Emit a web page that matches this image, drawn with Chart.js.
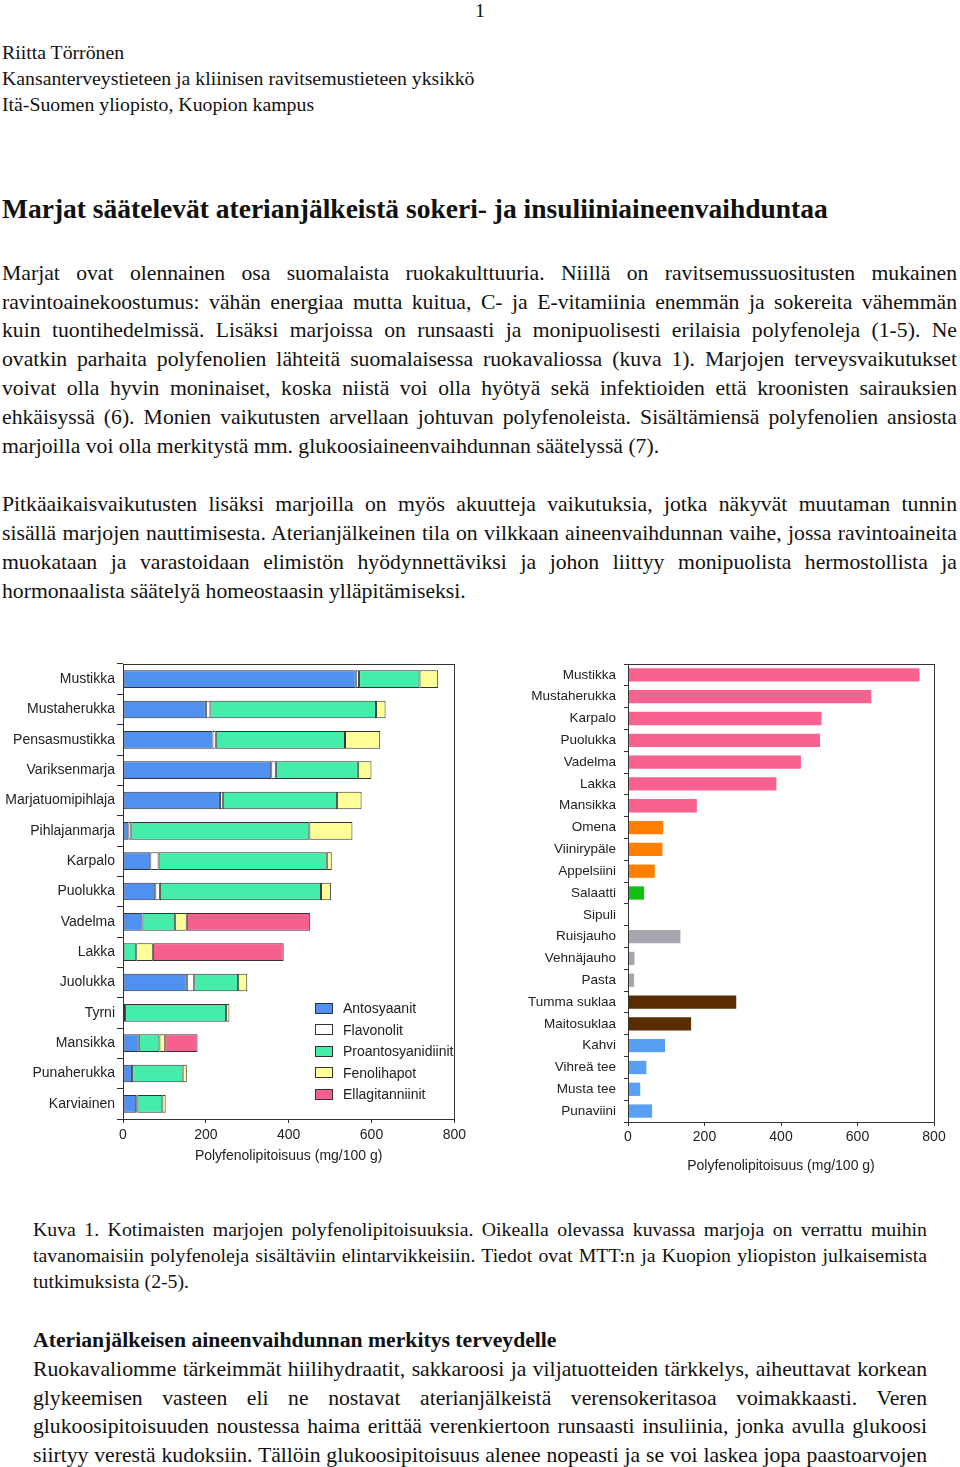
<!DOCTYPE html>
<html>
<head>
<meta charset="utf-8">
<script src="https://cdn.jsdelivr.net/npm/chart.js@4.4.0/dist/chart.umd.min.js"></script>
<style>
  body { margin: 0; background: #fff; width: 960px; height: 1467px; position: relative; overflow: hidden;
         font-family: "Liberation Serif", "Times New Roman", serif; color: #111; }
  .ln { position: absolute; left: 2px; width: 955px; font-size: 21.7px; line-height: 28px; height: 28px;
        text-align: justify; text-align-last: justify; }
  .hd { position: absolute; left: 2px; font-size: 19.8px; line-height: 26px; white-space: nowrap; }
  .cap { position: absolute; left: 33px; width: 894px; font-size: 19.8px; line-height: 26px; height: 26px;
         text-align: justify; text-align-last: justify; }
  .p3 { left: 33px; width: 894px; }
  .ln.last, .cap.last { text-align-last: left; }
  canvas { position: absolute; }
  #legend { position: absolute; left: 315px; top: 998px; font-family: "Liberation Sans", Arial, sans-serif;
            font-size: 14px; color: #222; }
  #legend div { height: 21.5px; line-height: 21.5px; white-space: nowrap; }
  #legend span.box { display: inline-block; width: 16px; height: 9px; border: 1px solid #333;
                     vertical-align: middle; margin-right: 10px; margin-top: -2px; }
</style>
</head>
<body>

<div class="hd" style="left:475px;top:-3px;">1</div>
<div class="hd" style="top:39px;">Riitta Törrönen</div>
<div class="hd" style="top:65px;">Kansanterveystieteen ja kliinisen ravitsemustieteen yksikkö</div>
<div class="hd" style="top:91px;">Itä-Suomen yliopisto, Kuopion kampus</div>

<div class="hd" style="top:193px;font-size:27.5px;line-height:32px;font-weight:bold;">Marjat säätelevät aterianjälkeistä sokeri- ja insuliiniaineenvaihduntaa</div>

<div class="ln" style="top:259px;">Marjat ovat olennainen osa suomalaista ruokakulttuuria. Niillä on ravitsemussuositusten mukainen</div>
<div class="ln" style="top:288px;">ravintoainekoostumus: vähän energiaa mutta kuitua, C- ja E-vitamiinia enemmän ja sokereita vähemmän</div>
<div class="ln" style="top:316px;">kuin tuontihedelmissä. Lisäksi marjoissa on runsaasti ja monipuolisesti erilaisia polyfenoleja (1-5). Ne</div>
<div class="ln" style="top:345px;">ovatkin parhaita polyfenolien lähteitä suomalaisessa ruokavaliossa (kuva 1). Marjojen terveysvaikutukset</div>
<div class="ln" style="top:374px;">voivat olla hyvin moninaiset, koska niistä voi olla hyötyä sekä infektioiden että kroonisten sairauksien</div>
<div class="ln" style="top:403px;">ehkäisyssä (6). Monien vaikutusten arvellaan johtuvan polyfenoleista. Sisältämiensä polyfenolien ansiosta</div>
<div class="ln last" style="top:432px;">marjoilla voi olla merkitystä mm. glukoosiaineenvaihdunnan säätelyssä (7).</div>

<div class="ln" style="top:490px;">Pitkäaikaisvaikutusten lisäksi marjoilla on myös akuutteja vaikutuksia, jotka näkyvät muutaman tunnin</div>
<div class="ln" style="top:519px;">sisällä marjojen nauttimisesta. Aterianjälkeinen tila on vilkkaan aineenvaihdunnan vaihe, jossa ravintoaineita</div>
<div class="ln" style="top:548px;">muokataan ja varastoidaan elimistön hyödynnettäviksi ja johon liittyy monipuolista hermostollista ja</div>
<div class="ln last" style="top:577px;">hormonaalista säätelyä homeostaasin ylläpitämiseksi.</div>

<canvas id="left" width="470" height="560" style="left:0;top:640px;width:470px;height:560px;"></canvas>
<canvas id="right" width="460" height="560" style="left:500px;top:640px;width:460px;height:560px;"></canvas>
<div id="legend"></div>

<div class="cap" style="top:1216px;">Kuva 1. Kotimaisten marjojen polyfenolipitoisuuksia. Oikealla olevassa kuvassa marjoja on verrattu muihin</div>
<div class="cap" style="top:1242px;">tavanomaisiin polyfenoleja sisältäviin elintarvikkeisiin. Tiedot ovat MTT:n ja Kuopion yliopiston julkaisemista</div>
<div class="cap last" style="top:1268px;">tutkimuksista (2-5).</div>

<div class="hd" style="left:33px;top:1326px;font-size:21.7px;line-height:28px;font-weight:bold;">Aterianjälkeisen aineenvaihdunnan merkitys terveydelle</div>
<div class="ln p3" style="top:1355px;">Ruokavaliomme tärkeimmät hiilihydraatit, sakkaroosi ja viljatuotteiden tärkkelys, aiheuttavat korkean</div>
<div class="ln p3" style="top:1384px;">glykeemisen vasteen eli ne nostavat aterianjälkeistä verensokeritasoa voimakkaasti. Veren</div>
<div class="ln p3" style="top:1412px;">glukoosipitoisuuden noustessa haima erittää verenkiertoon runsaasti insuliinia, jonka avulla glukoosi</div>
<div class="ln p3" style="top:1441px;">siirtyy verestä kudoksiin. Tällöin glukoosipitoisuus alenee nopeasti ja se voi laskea jopa paastoarvojen</div>

<script>
// left chart: polyphenol classes in Finnish berries (mg/100 g)
const berries = ['Mustikka','Mustaherukka','Pensasmustikka','Variksenmarja','Marjatuomipihlaja','Pihlajanmarja',
                 'Karpalo','Puolukka','Vadelma','Lakka','Juolukka','Tyrni','Mansikka','Punaherukka','Karviainen'];
const antosyaanit        = [562, 200, 216, 358, 234,  13,  66,  78,  47,   0, 154,   0,  38,  22,  32];
const flavonolit         = [  8,  11,   8,  11,   7,   7,  20,  11,   0,   0,  18,   5,   0,   0,   3];
const proantosyanidiinit = [146, 400, 312, 198, 276, 430, 406, 389,  79,  32, 106, 244,  50, 122,  60];
const fenolihapot        = [ 45,  23,  85,  33,  59, 104,  12,  24,  28,  40,  22,   8,  14,  10,   8];
const ellagitanniinit    = [  0,   0,   0,   0,   0,   0,   0,   0, 298, 316,   0,   0,  78,   0,   0];
const classNames = ['Antosyaanit','Flavonolit','Proantosyanidiinit','Fenolihapot','Ellagitanniinit'];

// right chart: total polyphenols in foods (mg/100 g)
const foods = ['Mustikka','Mustaherukka','Karpalo','Puolukka','Vadelma','Lakka','Mansikka','Omena','Viinirypäle',
               'Appelsiini','Salaatti','Sipuli','Ruisjauho','Vehnäjauho','Pasta','Tumma suklaa','Maitosuklaa',
               'Kahvi','Vihreä tee','Musta tee','Punaviini'];
const foodGroups = ['marja','marja','marja','marja','marja','marja','marja','hedelmä','hedelmä','hedelmä',
                    'vihannes','vihannes','vilja','vilja','vilja','suklaa','suklaa','juoma','juoma','juoma','juoma'];
const polyfenolit = [762, 636, 506, 502, 452, 388, 180, 92, 90, 70, 42, 0, 137, 17, 16, 283, 165, 97, 48, 32, 63];
const xTicks = [0, 200, 400, 600, 800];
const axisTitle = 'Polyfenolipitoisuus (mg/100 g)';

const classColors = ['#5090F0', '#FFFFFF', '#44EEAA', '#FFFF99', '#F5608C'];
const groupColors = { marja: '#F7638E', 'hedelmä': '#FF8000', vihannes: '#12C012', vilja: '#A6A6AE',
                      suklaa: '#5A2D00', juoma: '#58A0F5' };

const sans = '"Liberation Sans", Arial, sans-serif';
const ink = '#333';

// shrink any justified line that would not fit on one row
document.querySelectorAll('.ln, .cap').forEach(el => {
    el.style.whiteSpace = 'nowrap';
    let fs = parseFloat(getComputedStyle(el).fontSize);
    while (el.scrollWidth > el.clientWidth && fs > 10) {
        fs -= 0.2;
        el.style.fontSize = fs + 'px';
    }
    el.style.whiteSpace = '';
});

const framePlugin = {
    id: 'frame',
    afterDraw(c) {
        const a = c.chartArea, ctx = c.ctx;
        ctx.save();
        ctx.strokeStyle = ink;
        ctx.lineWidth = 1;
        ctx.strokeRect(Math.round(a.left) + 0.5, Math.round(a.top) + 0.5,
                       Math.round(a.right - a.left), Math.round(a.bottom - a.top));
        ctx.restore();
    }
};

function xScale(height, tickPad, titlePad) {
    return {
        stacked: true, min: 0, max: 800,
        afterBuildTicks(s) { s.ticks = xTicks.map(v => ({ value: v })); },
        afterFit(s) { s.height = height; },
        grid: { drawOnChartArea: false, tickLength: 4, color: ink },
        border: { color: ink },
        ticks: { color: '#222', padding: tickPad, maxRotation: 0, font: { family: sans, size: 14 } },
        title: { display: true, text: axisTitle, color: '#222', padding: { top: 0, bottom: titlePad },
                 font: { family: sans, size: 14 } }
    };
}

Chart.defaults.animation = false;

new Chart(document.getElementById('left'), {
    type: 'bar',
    data: {
        labels: berries,
        datasets: [antosyaanit, flavonolit, proantosyanidiinit, fenolihapot, ellagitanniinit].map((d, i) => ({
            label: classNames[i], data: d, backgroundColor: classColors[i],
            borderColor: ink, borderWidth: 1, borderSkipped: false,
            categoryPercentage: 1, barPercentage: 0.58
        }))
    },
    options: {
        indexAxis: 'y', responsive: false,
        layout: { padding: { top: 24, right: 14, left: 0, bottom: 0 } },
        plugins: { legend: { display: false }, tooltip: { enabled: false } },
        scales: {
            x: xScale(81, 4, 35),
            y: {
                stacked: true,
                afterFit(s) { s.width = 123; },
                grid: { drawOnChartArea: false, tickLength: 6, color: ink },
                border: { color: ink },
                ticks: { color: '#222', padding: 2, font: { family: sans, size: 14 } }
            }
        }
    },
    plugins: [framePlugin]
});

new Chart(document.getElementById('right'), {
    type: 'bar',
    data: {
        labels: foods,
        datasets: [{
            data: polyfenolit,
            backgroundColor: foodGroups.map(g => groupColors[g]),
            borderWidth: 0, categoryPercentage: 1, barPercentage: 0.61
        }]
    },
    options: {
        indexAxis: 'y', responsive: false,
        layout: { padding: { top: 24, right: 26, left: 0, bottom: 0 } },
        plugins: { legend: { display: false }, tooltip: { enabled: false } },
        scales: {
            x: xScale(78, 3, 25),
            y: {
                afterFit(s) { s.width = 128; },
                grid: { drawOnChartArea: false, tickLength: 4, color: ink },
                border: { color: ink },
                ticks: { color: '#222', padding: 8, font: { family: sans, size: 13.5 } }
            }
        }
    },
    plugins: [framePlugin]
});

// legend inside the left plot
const legend = document.getElementById('legend');
classNames.forEach((name, i) => {
    const row = document.createElement('div');
    const box = document.createElement('span');
    box.className = 'box';
    box.style.background = classColors[i];
    row.appendChild(box);
    row.appendChild(document.createTextNode(name));
    legend.appendChild(row);
});
</script>
</body>
</html>
